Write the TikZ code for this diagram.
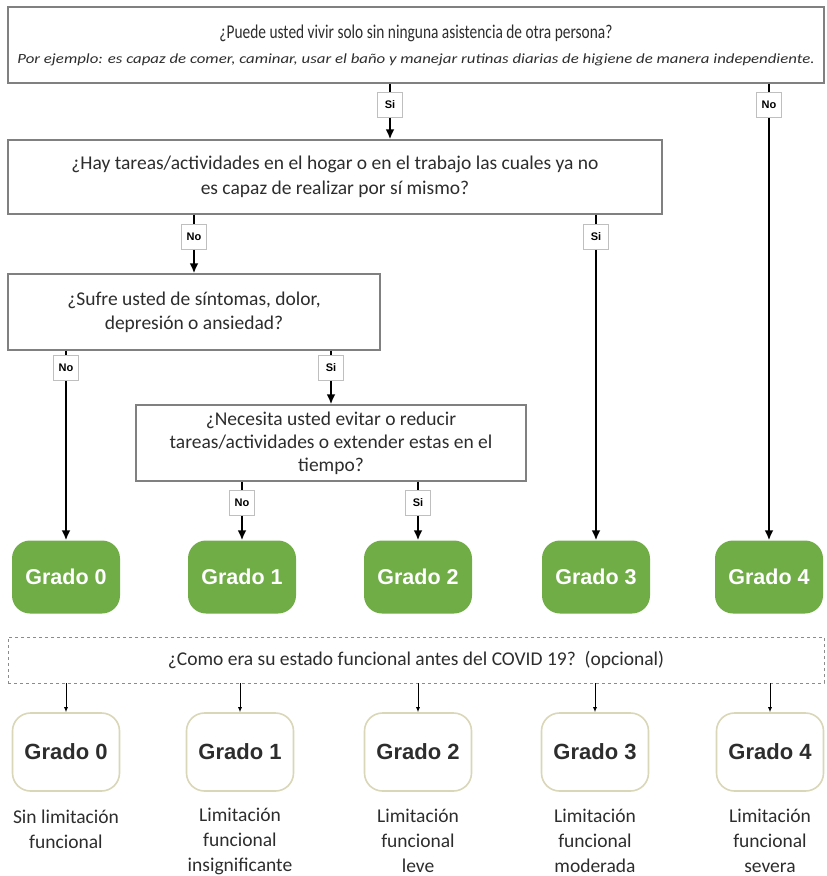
\documentclass[tikz,border=0pt]{standalone}
\usepackage{fontspec}
\usepackage{graphicx}
\setmainfont{Carlito}
\newfontfamily\arialfont{Liberation Sans}
\usetikzlibrary{arrows.meta}
\definecolor{grade_green}{RGB}{112, 173, 71}
\definecolor{pre_line}{RGB}{218, 214, 184}
\definecolor{box_line}{RGB}{128, 128, 128}
\definecolor{txt_dark}{RGB}{45, 45, 45}
\tikzstyle{qn}=[draw=box_line,line width=1.4pt,fill=white,text=txt_dark,
  align=center,inner sep=0pt,font=\fontsize{19.5}{24}\selectfont]
\tikzstyle{lab}=[draw=black!25,line width=0.6pt,fill=white,inner sep=0pt,
  minimum width=25pt,minimum height=25pt,font=\arialfont\bfseries\fontsize{11}{12}\selectfont]
\tikzstyle{gr}=[rectangle,rounded corners=18pt,fill=grade_green,text=white,
  minimum width=108pt,minimum height=73pt,font=\arialfont\bfseries\fontsize{21.5}{24}\selectfont]
\tikzstyle{pg}=[rectangle,rounded corners=18pt,draw=pre_line,line width=1.6pt,fill=white,
  text=txt_dark,minimum width=107pt,minimum height=78pt,font=\arialfont\bfseries\fontsize{22}{24}\selectfont]
\tikzstyle{desc}=[align=center,text=txt_dark,font=\fontsize{19.5}{25}\selectfont]
\tikzstyle{flow}=[line width=2pt,-{Latex[length=10pt,width=9pt]}]
\begin{document}
\begin{tikzpicture}[x=1pt,y=-1pt]
    \useasboundingbox (0,0) rectangle (827,876);
    % questions
    \node [style=qn,minimum width=816pt,minimum height=76pt] (q1) at (416,45)
      {\scalebox{0.79}[1]{\fontsize{19.5}{20}\selectfont ¿Puede usted vivir solo sin ninguna asistencia de otra persona?}\\[1pt]
       \scalebox{1.2}[1]{\itshape\fontsize{14}{16}\selectfont Por ejemplo: es capaz de comer, caminar, usar el baño y manejar rutinas diarias de higiene de manera independiente.}};
    \node [style=qn,minimum width=654pt,minimum height=74pt] (q2) at (335,177)
      {¿Hay tareas/actividades en el hogar o en el trabajo las cuales ya no\\[1pt]
       es capaz de realizar por sí mismo?};
    \node [style=qn,minimum width=372pt,minimum height=76pt] (q3) at (194,312)
      {¿Sufre usted de síntomas, dolor,\\ depresión o ansiedad?};
    \node [style=qn,minimum width=390pt,minimum height=76pt,font=\fontsize{19.5}{23}\selectfont] (q4) at (331,443)
      {¿Necesita usted evitar o reducir\\ tareas/actividades o extender estas en el\\ tiempo?};
    % grades
    \node [style=gr] (g0) at (66,577) {Grado 0};
    \node [style=gr] (g1) at (242,577) {Grado 1};
    \node [style=gr] (g2) at (418,577) {Grado 2};
    \node [style=gr] (g3) at (596,577) {Grado 3};
    \node [style=gr] (g4) at (769,577) {Grado 4};
    % answers
    \node [style=lab] (si1) at (390,105) {Si};
    \node [style=lab] (no1) at (769,105) {No};
    \node [style=lab] (no2) at (194,237) {No};
    \node [style=lab] (si2) at (596,237) {Si};
    \node [style=lab] (no3) at (66,368) {No};
    \node [style=lab] (si3) at (331,368) {Si};
    \node [style=lab] (no4) at (242,503) {No};
    \node [style=lab] (si4) at (418,503) {Si};
    \draw [line width=2pt] (q1.south -| si1) to (si1);
    \draw [style=flow] (si1) to (q2.north -| si1);
    \draw [line width=2pt] (q1.south -| no1) to (no1);
    \draw [style=flow] (no1) to (g4);
    \draw [line width=2pt] (q2.south -| no2) to (no2);
    \draw [style=flow] (no2) to (q3);
    \draw [line width=2pt] (q2.south -| si2) to (si2);
    \draw [style=flow] (si2) to (g3);
    \draw [line width=2pt] (q3.south -| no3) to (no3);
    \draw [style=flow] (no3) to (g0);
    \draw [line width=2pt] (q3.south -| si3) to (si3);
    \draw [style=flow] (si3) to (q4);
    \draw [line width=2pt] (q4.south -| no4) to (no4);
    \draw [style=flow] (no4) to (g1);
    \draw [line width=2pt] (q4.south -| si4) to (si4);
    \draw [style=flow] (si4) to (g2);
    % before covid
    \node [draw=black!45,dashed,line width=0.8pt,minimum width=816pt,minimum height=46pt,
      text=txt_dark,font=\fontsize{19.5}{22}\selectfont] (pre) at (416,660)
      {¿Como era su estado funcional antes del COVID 19?~~(opcional)};
    \node [style=pg] (p0) at (66,752) {Grado 0};
    \node [style=pg] (p1) at (240,752) {Grado 1};
    \node [style=pg] (p2) at (418,752) {Grado 2};
    \node [style=pg] (p3) at (595,752) {Grado 3};
    \node [style=pg] (p4) at (770,752) {Grado 4};
    \foreach \i in {0,...,4}
      \draw [line width=0.9pt,-{Latex[length=5pt,width=4pt]}] (pre.south -| p\i) to (p\i);
    \node [style=desc] (d0) at (66,829) {Sin limitación\\ funcional};
    \node [style=desc] (d1) at (240,841) {Limitación\\ funcional\\ insignificante};
    \node [style=desc] (d2) at (418,841) {Limitación\\ funcional\\ leve};
    \node [style=desc] (d3) at (595,841) {Limitación\\ funcional\\ moderada};
    \node [style=desc] (d4) at (770,841) {Limitación\\ funcional\\ severa};
\end{tikzpicture}
\end{document}
